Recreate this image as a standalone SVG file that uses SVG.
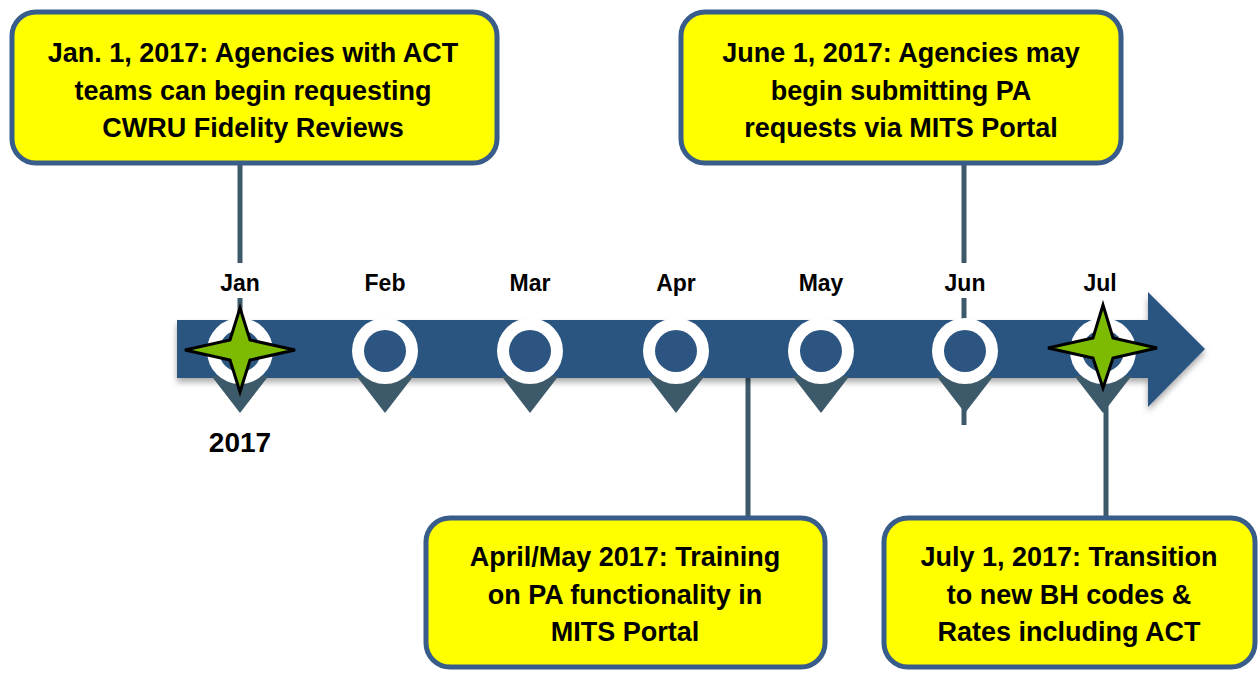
<svg xmlns="http://www.w3.org/2000/svg" width="1259" height="677" viewBox="0 0 1259 677">
<defs>
<style>
.box{fill:#ffff00;stroke:#385d8a;stroke-width:5}
.bt{font-family:"Liberation Sans",Arial,sans-serif;font-weight:bold;font-size:27px;fill:#000;text-anchor:middle}
.mt{font-family:"Liberation Sans",Arial,sans-serif;font-weight:bold;font-size:23px;fill:#000;text-anchor:middle}
.yt{font-family:"Liberation Sans",Arial,sans-serif;font-weight:bold;font-size:28px;fill:#000;text-anchor:middle}
.con{stroke:#3d5a6b;stroke-width:5;fill:none}
.pin{fill:#3d5a6b}
.ring{fill:#ffffff}
.core{fill:#2c5581}
.star{fill:#7cbb00;stroke:#000;stroke-width:3;stroke-linejoin:miter}
</style>
<filter id="sh" x="-5%" y="-20%" width="110%" height="150%">
<feDropShadow dx="0" dy="4" stdDeviation="3" flood-color="#000" flood-opacity="0.35"/>
</filter>
</defs>
<rect width="1259" height="677" fill="#ffffff"/>

<g id="connectors">
<line class="con" x1="240" y1="163" x2="240" y2="263"/>
<line class="con" x1="240" y1="298" x2="240" y2="330"/>
<line class="con" x1="964" y1="163" x2="964" y2="263"/>
<line class="con" x1="964" y1="298" x2="964" y2="425"/>
<line class="con" x1="748" y1="370" x2="748" y2="518"/>
<line class="con" x1="1106" y1="395" x2="1106" y2="518"/>
</g>

<g id="timeline">
<path d="M177,320 L1148,320 L1148,292 L1205,349 L1148,407 L1148,378 L177,378 Z" fill="#2c5581" filter="url(#sh)"/>
</g>

<g id="pin-jan">
<polygon class="pin" points="211.5,376 268.5,376 240,413"/>
<circle class="ring" cx="240" cy="351" r="33"/>
<circle class="core" cx="240" cy="351" r="21"/>
<text class="mt" x="240" y="291">Jan</text>
<text class="yt" x="240" y="452">2017</text>
<polygon class="star" points="240,308 250,340 295,350 250,360 240,392 230,360 185,350 230,340"/>
</g>
<g id="pin-feb">
<polygon class="pin" points="356.5,376 413.5,376 385,413"/>
<circle class="ring" cx="385" cy="351" r="33"/>
<circle class="core" cx="385" cy="351" r="21"/>
<text class="mt" x="385" y="291">Feb</text>
</g>
<g id="pin-mar">
<polygon class="pin" points="501.5,376 558.5,376 530,413"/>
<circle class="ring" cx="530" cy="351" r="33"/>
<circle class="core" cx="530" cy="351" r="21"/>
<text class="mt" x="530" y="291">Mar</text>
</g>
<g id="pin-apr">
<polygon class="pin" points="647.5,376 704.5,376 676,413"/>
<circle class="ring" cx="676" cy="351" r="33"/>
<circle class="core" cx="676" cy="351" r="21"/>
<text class="mt" x="676" y="291">Apr</text>
</g>
<g id="pin-may">
<polygon class="pin" points="792.5,376 849.5,376 821,413"/>
<circle class="ring" cx="821" cy="351" r="33"/>
<circle class="core" cx="821" cy="351" r="21"/>
<text class="mt" x="821" y="291">May</text>
</g>
<g id="pin-jun">
<polygon class="pin" points="936.5,376 993.5,376 965,413"/>
<circle class="ring" cx="965" cy="351" r="33"/>
<circle class="core" cx="965" cy="351" r="21"/>
<text class="mt" x="965" y="291">Jun</text>
</g>
<g id="pin-jul">
<polygon class="pin" points="1074.5,376 1131.5,376 1103,413"/>
<circle class="ring" cx="1103" cy="351" r="33"/>
<circle class="core" cx="1103" cy="351" r="21"/>
<text class="mt" x="1100" y="291">Jul</text>
<polygon class="star" points="1103,305 1113,338 1157,348 1113,358 1103,388 1093,358 1048,348 1093,338"/>
</g>

<g id="box-jan">
<rect class="box" x="12" y="12" width="485" height="151" rx="24"/>
<text class="bt" x="253" y="62">Jan. 1, 2017: Agencies with ACT</text>
<text class="bt" x="253" y="100">teams can begin requesting</text>
<text class="bt" x="253" y="137">CWRU Fidelity Reviews</text>
</g>
<g id="box-jun">
<rect class="box" x="681" y="12" width="440" height="151" rx="24"/>
<text class="bt" x="901" y="62">June 1, 2017: Agencies may</text>
<text class="bt" x="901" y="100">begin submitting PA</text>
<text class="bt" x="901" y="137">requests via MITS Portal</text>
</g>
<g id="box-aprmay">
<rect class="box" x="426" y="518" width="399" height="149" rx="24"/>
<text class="bt" x="625" y="566">April/May 2017: Training</text>
<text class="bt" x="625" y="604">on PA functionality in</text>
<text class="bt" x="625" y="641">MITS Portal</text>
</g>
<g id="box-jul">
<rect class="box" x="884" y="518" width="371" height="149" rx="24"/>
<text class="bt" x="1069" y="566">July 1, 2017: Transition</text>
<text class="bt" x="1069" y="604">to new BH codes &amp;</text>
<text class="bt" x="1069" y="641">Rates including ACT</text>
</g>
</svg>
